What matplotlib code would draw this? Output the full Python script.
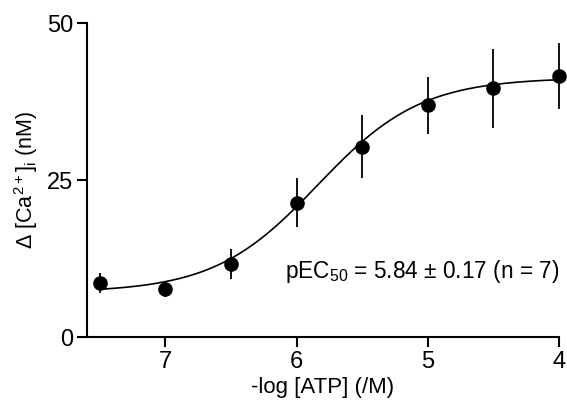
import matplotlib
matplotlib.use("Agg")
import matplotlib.pyplot as plt
import numpy as np

plt.rcParams['font.family'] = ['Liberation Sans', 'DejaVu Sans']
plt.rcParams['mathtext.default'] = 'regular'

# -log [ATP] concentrations and mean +/- SEM responses
log_atp = [7.5, 7.0, 6.5, 6.0, 5.5, 5.0, 4.5, 4.0]
ca_mean = [8.6, 7.6, 11.6, 21.4, 30.3, 36.9, 39.6, 41.6]
ca_sem = [1.6, 1.3, 2.4, 3.9, 5.0, 4.5, 6.3, 5.3]

# fitted sigmoid parameters
fit_bottom = 7.1
fit_top = 41.3
fit_pec50 = 5.84
fit_hill = 1.1

fig = plt.figure(figsize=(5.67, 4.12), dpi=100)
ax = fig.add_axes([0.153, 0.182, 0.833, 0.762])

xs = np.linspace(7.5, 4.0, 300)
curve = fit_bottom + (fit_top - fit_bottom) / (1 + 10 ** (fit_hill * (xs - fit_pec50)))
ax.plot(xs, curve, color='black', lw=1.2, zorder=2)

ax.errorbar(log_atp, ca_mean, yerr=ca_sem, fmt='o', color='black',
            ms=9.5, elinewidth=1.3, capsize=0, zorder=3, clip_on=False)

ax.set_xlim(7.6, 4.0)
ax.set_ylim(0, 50)
ax.set_xticks([7, 6, 5, 4])
ax.set_yticks([0, 25, 50])
ax.spines['top'].set_visible(False)
ax.spines['right'].set_visible(False)
for s in ['left', 'bottom']:
    ax.spines[s].set_linewidth(1.5)
ax.tick_params(direction='out', length=7, width=1.5, labelsize=17, pad=3)

ax.set_xlabel('-log [ATP] (/M)', fontsize=16, labelpad=3)
ax.set_ylabel('Δ [Ca$^{2+}$]$_{i}$ (nM)', fontsize=15.5, labelpad=5)

ax.text(4.0, 10.5, 'pEC$_{50}$ = 5.84 ± 0.17 (n = 7)', fontsize=16.3,
        ha='right', va='center')

fig.savefig('out.png', dpi=100)
